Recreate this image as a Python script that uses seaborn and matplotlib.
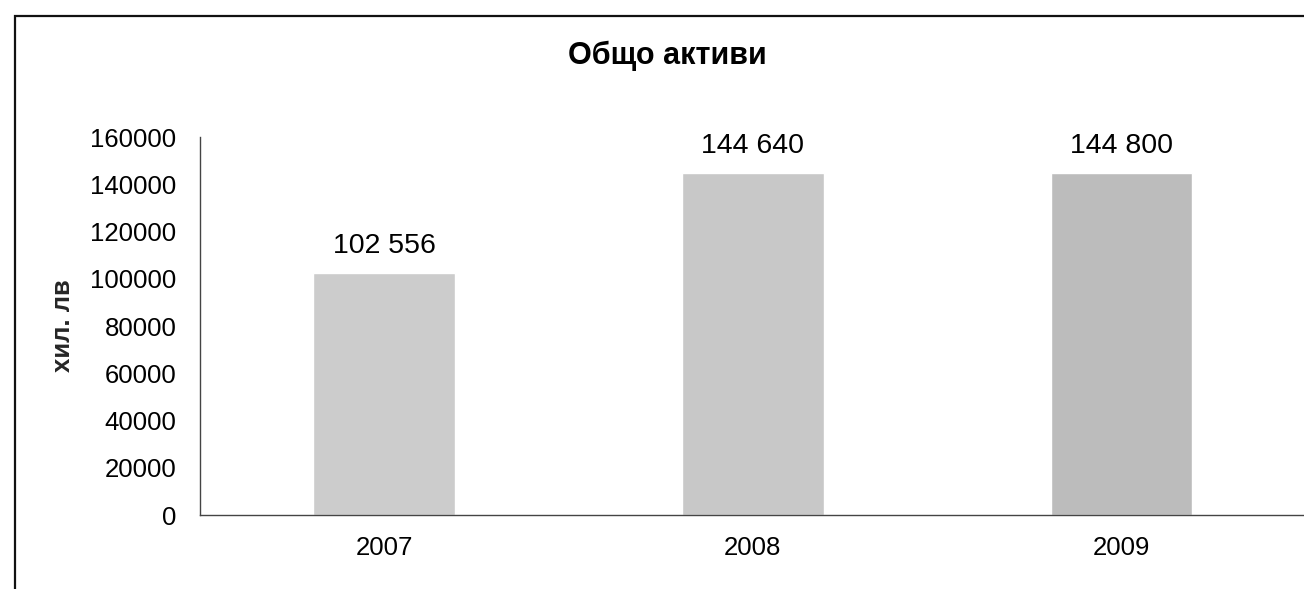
import matplotlib
matplotlib.use("Agg")
import matplotlib.pyplot as plt
import seaborn as sns
import pandas as pd
from matplotlib.patches import Rectangle

years = ["2007", "2008", "2009"]
assets = [102556, 144640, 144800]
labels = ["102 556", "144 640", "144 800"]
yticks = [0, 20000, 40000, 60000, 80000, 100000, 120000, 140000, 160000]

sns.set_style("white")
plt.rcParams['font.family'] = ['Liberation Sans', 'DejaVu Sans']
plt.rcParams['text.color'] = 'black'
plt.rcParams['xtick.color'] = 'black'
plt.rcParams['ytick.color'] = 'black'

df = pd.DataFrame({"year": years, "assets": assets})

fig = plt.figure(figsize=(13.04, 5.89), dpi=100)
ax = fig.add_axes([0.1534, 0.1256, 0.848, 0.6418])

sns.barplot(data=df, x="year", y="assets", hue="year",
            palette=["#cccccc", "#c8c8c8", "#bcbcbc"],
            width=0.385, legend=False, ax=ax, saturation=1)

for c, lab in zip(ax.containers, labels):
    ax.bar_label(c, labels=[lab], padding=10, fontsize=20.5)

ax.set_xlim(-0.5, 2.5)
ax.set_ylim(0, 160000)
ax.set_yticks(yticks)
ax.set_yticklabels([str(t) for t in yticks], fontsize=18.5)
ax.tick_params(axis='x', which='major', length=0, pad=15, labelsize=18.5)
ax.set_xticks([0.5, 1.5, 2.5], minor=True)
ax.tick_params(axis='x', which='minor', length=7, direction='out', color='#555555')
ax.tick_params(axis='y', length=4, direction='out', color='#555555', pad=13)
ax.set_xlabel("")
ax.set_ylabel("хил. лв", fontsize=18.5, fontweight='bold', labelpad=11)

for s in ["top", "right"]:
    ax.spines[s].set_visible(False)
for s in ["left", "bottom"]:
    ax.spines[s].set_color("#444444")
    ax.spines[s].set_linewidth(1.0)

fig.text(0.512, 0.905, "Общо активи", ha='center', va='center',
         fontsize=22, fontweight='bold')

# outer chart frame
fig.patches.append(Rectangle((0.0115, -0.05), 1.1, 1.023, transform=fig.transFigure,
                             fill=False, edgecolor='#111111', linewidth=1.6))

fig.savefig("out.png", dpi=100)
